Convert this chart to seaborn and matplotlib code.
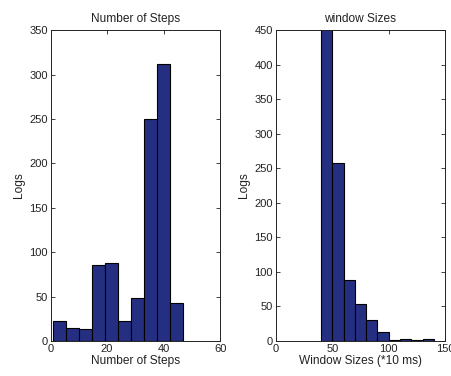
import matplotlib
matplotlib.use("Agg")
import matplotlib.pyplot as plt
import seaborn as sns
import numpy as np

# Left histogram: Number of Steps (10 bins between 1 and 47)
steps_centers = [3.3, 7.9, 12.5, 17.1, 21.7, 26.3, 30.9, 35.5, 40.1, 44.7]
steps_counts = [23, 15, 13, 86, 88, 22, 48, 250, 312, 43]
steps_range = [1, 47]

# Right histogram: Window Sizes (10 bins between 40 and 140)
win_centers = [45, 55, 65, 75, 85, 95, 105, 115, 125, 135]
win_counts = [470, 258, 88, 54, 30, 12.5, 1.5, 3.5, 1, 2.5]
win_range = [40, 140]

sns.set_theme(style="white")
plt.rcParams['font.family'] = ['Liberation Sans', 'DejaVu Sans']

fill = "#252f82"
fig = plt.figure(figsize=(4.52, 3.76), dpi=100)
ax1 = fig.add_axes([0.112, 0.093, 0.375, 0.827])
ax2 = fig.add_axes([0.610, 0.093, 0.375, 0.827])

sns.histplot(x=steps_centers, weights=steps_counts, bins=10, binrange=steps_range,
             color=fill, alpha=1, edgecolor="black", linewidth=0.8, ax=ax1)
sns.histplot(x=win_centers, weights=win_counts, bins=10, binrange=win_range,
             color=fill, alpha=1, edgecolor="black", linewidth=0.8, ax=ax2)

fs = 8
lfs = 8.6
for ax, title, xlabel, xlim, ylim, xt, yt in [
    (ax1, "Number of Steps", "Number of Steps", (0, 60), (0, 350), [0, 20, 40, 60], np.arange(0, 351, 50)),
    (ax2, "window Sizes", "Window Sizes (*10 ms)", (0, 150), (0, 450), [0, 50, 100, 150], np.arange(0, 451, 50)),
]:
    ax.set_xlim(*xlim)
    ax.set_ylim(*ylim)
    ax.set_xticks(xt)
    ax.set_yticks(yt)
    ax.set_title(title, fontsize=lfs, pad=6, color="#222222")
    ax.set_xlabel(xlabel, fontsize=lfs, labelpad=1, color="#222222")
    ax.set_ylabel("Logs", fontsize=lfs, labelpad=3, color="#222222")
    ax.tick_params(direction="in", length=3, width=0.6, labelsize=fs, top=True, right=True,
                   bottom=True, left=True, pad=2, colors="#222222")
    for s in ax.spines.values():
        s.set_color("#222222")
        s.set_linewidth(0.7)
        s.set_visible(True)

fig.savefig("out.png", dpi=100)
